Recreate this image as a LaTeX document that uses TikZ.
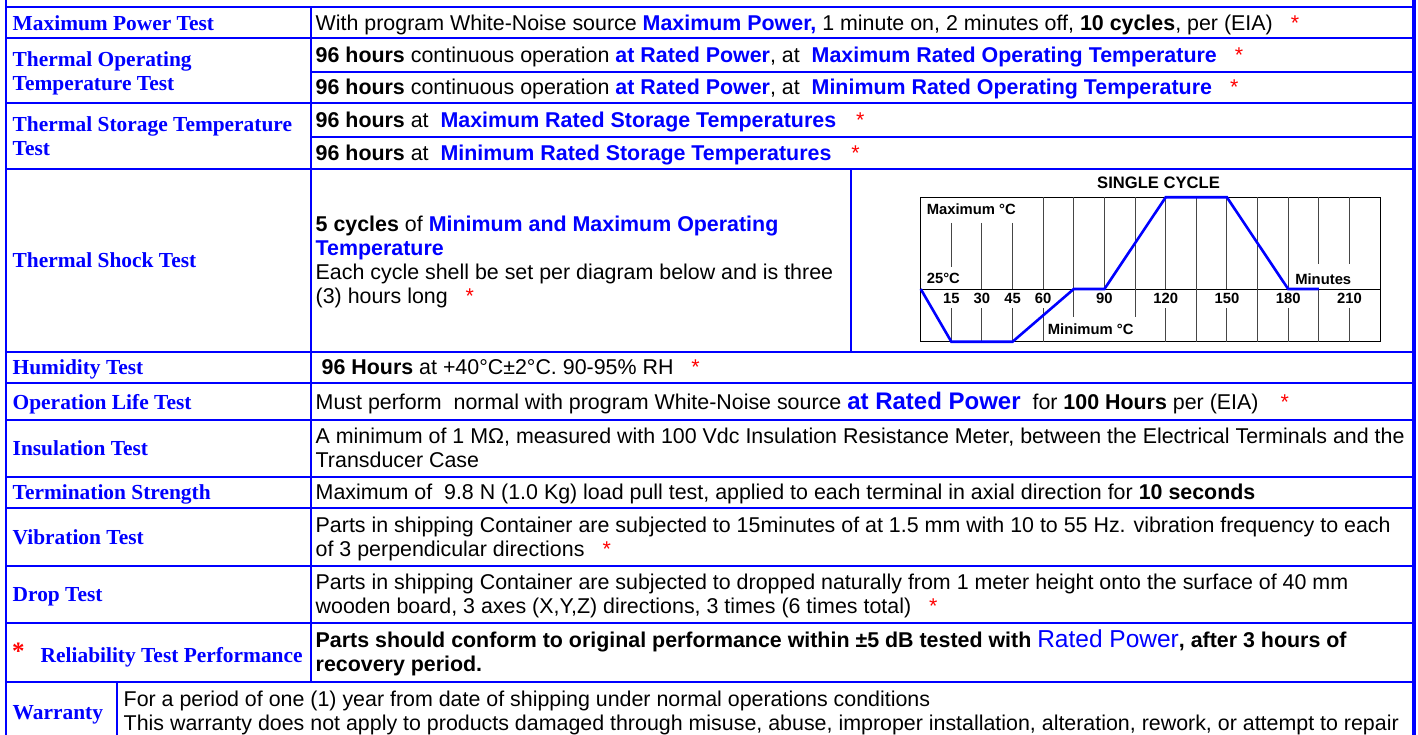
\documentclass[tikz,border=0pt]{standalone}
\usepackage{fontspec}
\setmainfont{Liberation Sans}
\newfontfamily\headserif{Liberation Serif}
\usepackage{tikz}
\definecolor{tblue}{RGB}{0,0,255}
\definecolor{tred}{RGB}{255,0,0}
\definecolor{gridgray}{RGB}{70,70,70}
\pgfdeclarelayer{edgelayer}
\pgfdeclarelayer{nodelayer}
\pgfsetlayers{edgelayer,nodelayer,main}
\tikzstyle{none}=[inner sep=0pt]
\tikzstyle{rule}=[-,draw=tblue,line width=2]
\tikzstyle{border}=[-,draw=tblue,line width=2.5]
\tikzstyle{testname}=[inner sep=0pt,anchor=base west,text=tblue,font=\headserif\bfseries\fontsize{21.4}{24}\selectfont]
\tikzstyle{spec}=[inner sep=0pt,anchor=base west,font=\fontsize{21.4}{24}\selectfont]
\tikzstyle{grid}=[-,draw=gridgray,line width=1]
\tikzstyle{frame}=[-,draw=black,line width=1]
\tikzstyle{cycle}=[-,draw=tblue,line width=2.6]
\tikzstyle{chartlabel}=[inner sep=0pt,anchor=base west,font=\bfseries\fontsize{14.8}{16}\selectfont]
\tikzstyle{minute}=[inner sep=0pt,anchor=base,font=\bfseries\fontsize{14.8}{16}\selectfont]
\newcommand{\bluebf}[1]{\textbf{\textcolor{tblue}{#1}}}
\newcommand{\redstar}{\textcolor{tred}{*}}

\begin{document}
\begin{tikzpicture}[x=1pt,y=-1pt]
	\useasboundingbox (0,0) rectangle (1418,735);
	\begin{pgfonlayer}{nodelayer}
		% test names
		\node [style=testname] (maxpow) at (12.5, 30.5) {Maximum Power Test};
		\node [style=testname] (thopa) at (12.5, 66.3) {Thermal Operating};
		\node [style=testname] (thopb) at (12.5, 90.3) {Temperature Test};
		\node [style=testname] (thsta) at (12.5, 131.6) {Thermal Storage Temperature};
		\node [style=testname] (thstb) at (12.5, 155.6) {Test};
		\node [style=testname] (shock) at (12.5, 267.8) {Thermal Shock Test};
		\node [style=testname] (humid) at (12.5, 374.8) {Humidity Test};
		\node [style=testname] (oplife) at (12.5, 409) {Operation Life Test};
		\node [style=testname] (insul) at (12.5, 455.6) {Insulation Test};
		\node [style=testname] (termin) at (12.5, 499.8) {Termination Strength};
		\node [style=testname] (vibr) at (12.5, 544.5) {Vibration Test};
		\node [style=testname] (drop) at (12.5, 601.6) {Drop Test};
		\node [style=none, anchor=base west, text=tred, font=\headserif\bfseries\fontsize{25}{25}\selectfont] (relstar) at (12, 659.5) {*};
		\node [style=testname] (relia) at (40.5, 662.5) {Reliability Test Performance};
		\node [style=testname] (warr) at (12.5, 719) {Warranty};

		% specifications
		\node [style=spec] (maxpowtx) at (315.5, 30.5) {With program White-Noise source \bluebf{Maximum Power,} 1 minute on, 2 minutes off, \textbf{10 cycles}, per (EIA)\hspace{18pt}\redstar};
		\node [style=spec] (thoptxa) at (315.5, 62.5) {\textbf{96 hours} continuous operation \bluebf{at Rated Power}, at\ \ \bluebf{Maximum Rated Operating Temperature}\hspace{18pt}\redstar};
		\node [style=spec] (thoptxb) at (315.5, 95) {\textbf{96 hours} continuous operation \bluebf{at Rated Power}, at\ \ \bluebf{Minimum Rated Operating Temperature}\hspace{18pt}\redstar};
		\node [style=spec] (thsttxa) at (315.5, 127.5) {\textbf{96 hours} at\ \ \bluebf{Maximum Rated Storage Temperatures}\hspace{20pt}\redstar};
		\node [style=spec] (thsttxb) at (315.5, 160.3) {\textbf{96 hours} at\ \ \bluebf{Minimum Rated Storage Temperatures}\hspace{20pt}\redstar};
		\node [style=spec] (shocktxa) at (315.5, 231.8) {\textbf{5 cycles} of \bluebf{Minimum and Maximum Operating}};
		\node [style=spec] (shocktxb) at (315.5, 255.8) {\bluebf{Temperature}};
		\node [style=spec] (shocktxc) at (315.5, 279.8) {Each cycle shell be set per diagram below and is three};
		\node [style=spec] (shocktxd) at (315.5, 303.8) {(3) hours long\hspace{18pt}\redstar};
		\node [style=spec] (humidtx) at (321.5, 374.8) {\textbf{96 Hours} at +40°C±2°C. 90-95\% RH\hspace{18pt}\redstar};
		\node [style=spec] (oplifetx) at (315.5, 409) {Must perform\ \ normal with program White-Noise source \bluebf{\fontsize{24}{24}\selectfont at Rated Power}\ \ for \textbf{100 Hours} per (EIA)\hspace{22pt}\redstar};
		\node [style=spec] (insultxa) at (315.5, 443.5) {A minimum of 1 MΩ, measured with 100 Vdc Insulation Resistance Meter, between the Electrical Terminals and the};
		\node [style=spec] (insultxb) at (315.5, 467.5) {Transducer Case};
		\node [style=spec] (termintx) at (315.5, 499.8) {Maximum of\ \ 9.8 N (1.0 Kg) load pull test, applied to each terminal in axial direction for \textbf{10 seconds}};
		\node [style=spec] (vibrtxa) at (315.5, 532.5) {Parts in shipping Container are subjected to 15minutes of at 1.5 mm with 10 to 55 Hz. vibration frequency to each};
		\node [style=spec] (vibrtxb) at (315.5, 556.5) {of 3 perpendicular directions\hspace{18pt}\redstar};
		\node [style=spec] (droptxa) at (315.5, 589.6) {Parts in shipping Container are subjected to dropped naturally from 1 meter height onto the surface of 40 mm};
		\node [style=spec] (droptxb) at (315.5, 613.6) {wooden board, 3 axes (X,Y,Z) directions, 3 times (6 times total)\hspace{18pt}\redstar};
		\node [style=spec] (reliatxa) at (315.5, 647.5) {\bfseries Parts should conform to original performance within ±5 dB tested with {\mdseries\color{tblue}\fontsize{24.5}{24}\selectfont Rated Power}, after 3 hours of};
		\node [style=spec] (reliatxb) at (315.5, 671.5) {\bfseries recovery period.};
		\node [style=spec] (warrtxa) at (123.5, 706.5) {For a period of one (1) year from date of shipping under normal operations conditions};
		\node [style=spec] (warrtxb) at (123.5, 730.5) {This warranty does not apply to products damaged through misuse, abuse, improper installation, alteration, rework, or attempt to repair};
	\end{pgfonlayer}

	\begin{pgfonlayer}{edgelayer}
		% table rules
		\draw [style=rule] (6, 6.8) to (1414, 6.8);
		\draw [style=rule] (6, 38.5) to (1414, 38.5);
		\draw [style=rule] (310.5, 71.8) to (1414, 71.8);
		\draw [style=rule] (6, 103.5) to (1414, 103.5);
		\draw [style=rule] (310.5, 136.8) to (1414, 136.8);
		\draw [style=rule] (6, 169.2) to (1414, 169.2);
		\draw [style=rule] (6, 351.7) to (1414, 351.7);
		\draw [style=rule] (6, 383.3) to (1414, 383.3);
		\draw [style=rule] (6, 420) to (1414, 420);
		\draw [style=rule] (6, 476.7) to (1414, 476.7);
		\draw [style=rule] (6, 508.3) to (1414, 508.3);
		\draw [style=rule] (6, 566) to (1414, 566);
		\draw [style=rule] (6, 622.7) to (1414, 622.7);
		\draw [style=rule] (6, 681.7) to (1414, 681.7);
		\draw [style=rule] (310.5, 6.8) to (310.5, 681.7);
		\draw [style=rule] (851, 169.2) to (851, 351.7);
		\draw [style=rule] (117.3, 681.7) to (117.3, 735);
		\draw [style=border] (6, 0) to (6, 735);
		\draw [style=border, line width=4] (1414, 0) to (1414, 735);
	\end{pgfonlayer}

	% single cycle chart, x in minutes
	\begin{scope}[shift={(920.7,289)}, x=2.0413pt, y=-1pt]
		\node [style=minute, font=\bfseries\fontsize{16.6}{18}\selectfont] (title) at (116.5, -100.7) {SINGLE CYCLE};
		\node [style=chartlabel] (maxc) at (2.9, -74) {Maximum °C};
		\node [style=chartlabel] (roomc) at (2.9, -5.7) {25°C};
		\node [style=chartlabel] (minutes) at (183.4, -5) {Minutes};
		\node [style=chartlabel] (minc) at (62.2, 45) {Minimum °C};
		\node [style=minute] (m15) at (15, 14.3) {15};
		\node [style=minute] (m30) at (30, 14.3) {30};
		\node [style=minute] (m45) at (45, 14.3) {45};
		\node [style=minute] (m60) at (60, 14.3) {60};
		\node [style=minute] (m90) at (90, 14.3) {90};
		\node [style=minute] (m120) at (120, 14.3) {120};
		\node [style=minute] (m150) at (150, 14.3) {150};
		\node [style=minute] (m180) at (180, 14.3) {180};
		\node [style=minute] (m210) at (210, 14.3) {210};

		\draw [style=frame] (0, -91.7) rectangle (225, 52.7);
		\draw [style=frame] (0, 0) to (225, 0);
		\draw [style=grid] (15, -66) to (15, -22);
		\draw [style=grid] (15, 19) to (15, 52.7);
		\draw [style=grid] (30, -66) to (30, 0);
		\draw [style=grid] (30, 19) to (30, 52.7);
		\draw [style=grid] (45, -66) to (45, 0);
		\draw [style=grid] (45, 19) to (45, 52.7);
		\draw [style=grid] (60, -91.7) to (60, 0);
		\draw [style=grid] (60, 19) to (60, 52.7);
		\draw [style=grid] (75, -91.7) to (75, 27.7);
		\draw [style=grid] (90, -91.7) to (90, 0);
		\draw [style=grid] (105, -91.7) to (105, 27.7);
		\draw [style=grid] (120, -91.7) to (120, 0);
		\draw [style=grid] (120, 19) to (120, 52.7);
		\draw [style=grid] (135, -91.7) to (135, 52.7);
		\draw [style=grid] (150, -91.7) to (150, 0);
		\draw [style=grid] (150, 19) to (150, 52.7);
		\draw [style=grid] (165, -91.7) to (165, 52.7);
		\draw [style=grid] (180, -91.7) to (180, 0);
		\draw [style=grid] (180, 19) to (180, 52.7);
		\draw [style=grid] (195, -91.7) to (195, -25);
		\draw [style=grid] (195, 0) to (195, 52.7);
		\draw [style=grid] (210, -91.7) to (210, -25);
		\draw [style=grid] (210, 19) to (210, 52.7);

		\draw [style=cycle] (0, 0) -- (15, 52.7) -- (45, 52.7) -- (75, 0) -- (90, 0) -- (120, -91.7) -- (150, -91.7) -- (180, 0) -- (195, 0);
	\end{scope}
\end{tikzpicture}
\end{document}
